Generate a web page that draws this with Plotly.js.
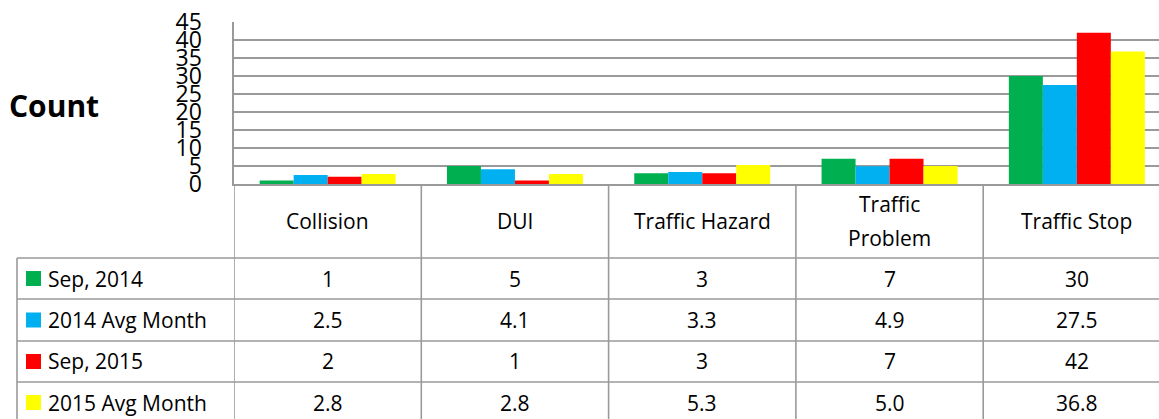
<!DOCTYPE html>
<html>
<head>
<meta charset="utf-8">
<script src="https://cdn.plot.ly/plotly-3.0.1.min.js"></script>
<style>html,body{margin:0;padding:0;background:#fff;}#chart{width:1159px;height:419px;}</style>
</head>
<body>
<div id="chart"></div>
<script>
// ---- data ----
const categories = ["Collision", "DUI", "Traffic Hazard", "Traffic Problem", "Traffic Stop"];
const categoryLabelLines = [["Collision"], ["DUI"], ["Traffic Hazard"], ["Traffic", "Problem"], ["Traffic Stop"]];
const seriesNames = ["Sep, 2014", "2014 Avg Month", "Sep, 2015", "2015 Avg Month"];
const sep2014 = [1, 5, 3, 7, 30];
const avg2014 = [2.5, 4.1, 3.3, 4.9, 27.5];
const sep2015 = [2, 1, 3, 7, 42];
const avg2015 = [2.8, 2.8, 5.3, 5.0, 36.8];
const seriesDecimals = [0, 1, 0, 1];
const yTickVals = [0, 5, 10, 15, 20, 25, 30, 35, 40, 45];
const yTitle = "Count";

// ---- styling / layout ----
const colors = ["#00B050", "#00B0F0", "#FF0000", "#FFFF00"];
const allSeries = [sep2014, avg2014, sep2015, avg2015];
const W = 1159, H = 419;
const plotL = 234, plotT = 22, plotB = 184;
const plotW = W - plotL, plotH = plotB - plotT;
const catW = 187.3;
const FONT = "Open Sans, sans-serif";
const lineCol = "#9a9a9a";

// pixel -> paper helpers
const px = p => (p - plotL) / plotW;
const py = p => (plotB - p) / plotH;

const traces = allSeries.map((vals, i) => ({
  type: "bar", x: categories, y: vals, name: seriesNames[i],
  marker: {color: colors[i]}, hoverinfo: "skip"
}));

const rowEdges = [258, 299, 341, 382, 423];
const tableLeft = 17;
const shapes = [];
const annotations = [];

// horizontal table lines
rowEdges.forEach(r => {
  shapes.push({type: "line", xref: "paper", yref: "paper", x0: px(tableLeft), x1: 1.02, y0: py(r), y1: py(r),
    line: {color: lineCol, width: 1.6}});
});
// vertical lines at category boundaries (header + body)
for (let k = 0; k <= categories.length; k++) {
  shapes.push({type: "line", xref: "x", yref: "paper", x0: k - 0.5, x1: k - 0.5, y0: py(plotB), y1: py(H + 5),
    line: {color: lineCol, width: 1.6}});
}
// left border of legend column
shapes.push({type: "line", xref: "paper", yref: "paper", x0: px(tableLeft), x1: px(tableLeft), y0: py(rowEdges[0]), y1: py(H + 5),
  line: {color: lineCol, width: 1.6}});

// category header labels
categoryLabelLines.forEach((lines, k) => {
  const cy = (plotB + rowEdges[0]) / 2;
  const spacing = 34;
  lines.forEach((txt, j) => {
    const yy = cy + (j - (lines.length - 1) / 2) * spacing;
    annotations.push({xref: "x", yref: "paper", x: k, y: py(yy), text: txt, showarrow: false,
      xanchor: "center", yanchor: "middle", font: {family: FONT, size: 21, color: "#000"}});
  });
});

// body rows
allSeries.forEach((vals, i) => {
  const cy = (rowEdges[i] + rowEdges[i + 1]) / 2;
  // legend key
  shapes.push({type: "rect", xref: "paper", yref: "paper", x0: px(26), x1: px(41), y0: py(cy - 7.5), y1: py(cy + 7.5),
    line: {width: 0}, fillcolor: colors[i]});
  annotations.push({xref: "paper", yref: "paper", x: px(46), y: py(cy), text: seriesNames[i], showarrow: false,
    xanchor: "left", yanchor: "middle", font: {family: FONT, size: 21, color: "#000"}});
  vals.forEach((v, k) => {
    annotations.push({xref: "x", yref: "paper", x: k, y: py(cy), text: v.toFixed(seriesDecimals[i]), showarrow: false,
      xanchor: "center", yanchor: "middle", font: {family: FONT, size: 21, color: "#000"}});
  });
});

// y title
annotations.push({xref: "paper", yref: "paper", x: px(54), y: py(105), text: "<b>" + yTitle + "</b>", showarrow: false,
  xanchor: "center", yanchor: "middle", font: {family: FONT, size: 30, color: "#000"}});

const layout = {
  width: W, height: H,
  margin: {l: plotL, r: 0, t: plotT, b: H - plotB, pad: 0},
  paper_bgcolor: "#fff", plot_bgcolor: "#fff",
  showlegend: false,
  barmode: "group", bargap: 0.274, bargroupgap: 0,
  xaxis: {range: [-0.5, -0.5 + plotW / catW], showticklabels: false, showgrid: false, zeroline: false,
    showline: true, linecolor: lineCol, linewidth: 1.6, fixedrange: true},
  yaxis: {range: [0, 45], tickvals: yTickVals, showgrid: true, gridcolor: lineCol, gridwidth: 1.6,
    zeroline: false, showline: true, linecolor: lineCol, linewidth: 1.6, ticks: "", ticklabelstandoff: 26,
    tickfont: {family: FONT, size: 23, color: "#000"}, fixedrange: true},
  shapes: shapes, annotations: annotations,
  font: {family: FONT}
};

Plotly.newPlot("chart", traces, layout, {staticPlot: true, displayModeBar: false});
</script>
</body>
</html>
